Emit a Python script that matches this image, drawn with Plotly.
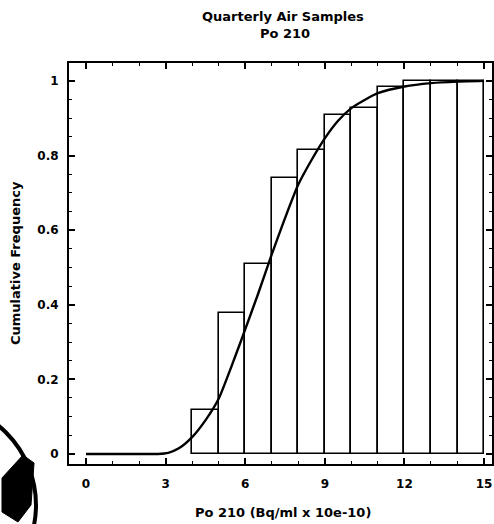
import plotly.graph_objects as go

# ---- data ----
bar_centers = [4.5, 5.5, 6.5, 7.5, 8.5, 9.5, 10.5, 11.5, 12.5, 13.5, 14.5]
bar_heights = [0.118, 0.377, 0.509, 0.739, 0.815, 0.909, 0.927, 0.985, 1.0, 1.0, 1.0]

curve_x = [0, 1, 2, 2.7, 3.1, 3.5, 4, 4.5, 5, 5.5, 6, 6.5, 7, 7.5, 8, 8.5, 9, 9.5, 10, 10.5, 11, 12, 13, 14, 15]
curve_y = [0, 0, 0, 0, 0.003, 0.015, 0.045, 0.09, 0.148, 0.238, 0.334, 0.432, 0.535, 0.632, 0.722, 0.788,
           0.846, 0.893, 0.927, 0.949, 0.967, 0.985, 0.994, 0.998, 1.0]

x_ticks = [0, 3, 6, 9, 12, 15]
y_ticks = [0, 0.2, 0.4, 0.6, 0.8, 1]
y_tick_text = ["0", "0.2", "0.4", "0.6", "0.8", "1"]

title1 = "Quarterly Air Samples"
title2 = "Po 210"
x_title = "Po 210 (Bq/ml x 10e-10)"
y_title = "Cumulative Frequency"

FONT = "DejaVu Sans"
W, H = 494, 524
L, R, T, B = 69, 2, 63, 60
PW, PH = W - L - R, H - T - B


def px(X):
    return (X - L) / PW


def py(Y):
    return (H - B - Y) / PH


fig = go.Figure()
fig.add_trace(go.Bar(
    x=bar_centers, y=bar_heights, width=1,
    marker=dict(color="white", line=dict(color="black", width=1.6)),
    showlegend=False, hoverinfo="skip"))
fig.add_trace(go.Scatter(
    x=curve_x, y=curve_y, mode="lines",
    line=dict(color="black", width=2.4, shape="spline", smoothing=0.6),
    showlegend=False))

axis_common = dict(
    showline=True, linecolor="black", linewidth=2, mirror="allticks",
    ticks="inside", ticklen=6, tickwidth=1.5, tickcolor="black",
    showgrid=False, zeroline=False, automargin=False,
    tickfont=dict(family=FONT, size=12, color="black", weight="bold"),
)
fig.update_xaxes(range=[-0.64, 15.3], tickvals=x_ticks, ticklabelstandoff=8,
                 minor=dict(dtick=1, ticks="inside", ticklen=3, tickcolor="black", tickwidth=1.2),
                 **axis_common)
fig.update_yaxes(range=[-0.027, 1.048], tickvals=y_ticks, ticktext=y_tick_text, ticklabelstandoff=6,
                 minor=dict(dtick=0.05, ticks="inside", ticklen=3, tickcolor="black", tickwidth=1.2),
                 **axis_common)

tfont = dict(family=FONT, size=13, color="black", weight="bold")
fig.add_annotation(text=title1, xref="paper", yref="paper", x=px(283), y=py(16),
                   showarrow=False, font=tfont, xanchor="center", yanchor="middle")
fig.add_annotation(text=title2, xref="paper", yref="paper", x=px(285), y=py(33),
                   showarrow=False, font=tfont, xanchor="center", yanchor="middle")
fig.add_annotation(text=x_title, xref="paper", yref="paper", x=px(283), y=py(512),
                   showarrow=False, font=tfont, xanchor="center", yanchor="middle")
fig.add_annotation(text=y_title, xref="paper", yref="paper", x=px(15), y=py(263),
                   showarrow=False, font=tfont, textangle=-90, xanchor="center", yanchor="middle")

# scan artefact: stamp arc and dark wedge in the lower-left corner
cx, cy, r = -66.5, 505, 102.5
fig.add_shape(type="circle", xref="paper", yref="paper",
              x0=px(cx - r), x1=px(cx + r), y0=py(cy + r), y1=py(cy - r),
              line=dict(color="black", width=4), layer="above")
wedge = [(2, 478), (23, 455), (34, 463), (31, 505), (18, 522), (2, 512)]
path = "M " + " L ".join(f"{px(a):.4f},{py(b):.4f}" for a, b in wedge) + " Z"
fig.add_shape(type="path", xref="paper", yref="paper", path=path,
              fillcolor="black", line=dict(color="black", width=1), layer="above")

fig.update_layout(
    width=W, height=H, margin=dict(l=L, r=R, t=T, b=B, autoexpand=False),
    paper_bgcolor="white", plot_bgcolor="white",
    bargap=0, font=dict(family=FONT, color="black"),
)

fig.write_html("out.html", config={"displayModeBar": False},
               post_script="document.body.style.margin='0';document.body.style.overflow='hidden';")
